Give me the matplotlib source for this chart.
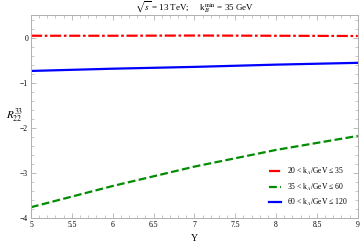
import matplotlib
matplotlib.use("Agg")
import matplotlib.pyplot as plt
from matplotlib.ticker import MultipleLocator

plt.rcParams['font.family'] = ['Liberation Serif', 'DejaVu Serif']
plt.rcParams['mathtext.fontset'] = 'stix'

# data
Y = [5.0, 6.0, 7.0, 8.0, 9.0]
r_20_35 = [0.04, 0.04, 0.045, 0.04, 0.035]
r_35_60 = [-3.76, -3.29, -2.86, -2.49, -2.18]
r_60_120 = [-0.74, -0.69, -0.65, -0.60, -0.56]
labels = [r"20 < k$_A$/GeV ≤ 35", r"35 < k$_A$/GeV ≤ 60", r"60 < k$_A$/GeV ≤ 120"]

fig = plt.figure(figsize=(3.6, 2.42), dpi=100)
ax = fig.add_axes([0.086, 0.099, 0.908, 0.839])

ax.plot(Y, r_20_35, color='#ff0000', lw=1.6, dashes=(5, 1.2, 1.2, 1.2), label=labels[0])
ax.plot(Y, r_35_60, color='#008c00', lw=1.6, dashes=(3.5, 1.5), label=labels[1])
ax.plot(Y, r_60_120, color='#0000ff', lw=1.6, label=labels[2])

ax.set_xlim(5, 9)
ax.set_ylim(-4, 0.5)
ax.xaxis.set_major_locator(MultipleLocator(0.5))
ax.xaxis.set_minor_locator(MultipleLocator(0.1))
ax.yaxis.set_major_locator(MultipleLocator(1))
ax.yaxis.set_minor_locator(MultipleLocator(0.2))
ax.xaxis.set_major_formatter(plt.FuncFormatter(lambda v, p: f"{v:g}"))
ax.yaxis.set_major_formatter(plt.FuncFormatter(lambda v, p: f"{v:g}".replace('-', '\u2212')))
ax.tick_params(which='both', direction='in', top=True, right=True, color='#b0b0b0',
               labelsize=5.5, pad=2)
ax.tick_params(which='major', length=3.5, width=0.6)
ax.tick_params(which='minor', length=2, width=0.5)
ax.tick_params(labeltop=False, labelright=False)
for s in ax.spines.values():
    s.set_color('#b0b0b0')
    s.set_linewidth(0.7)

ax.set_xlabel("Y", fontsize=7, labelpad=4)
ax.set_ylabel(r"$R^{33}_{22}$", fontsize=8, rotation=0, va='center', ha='center')
ax.yaxis.set_label_coords(-0.05, 0.505)
ax.set_title(r"$\sqrt{s}$ = 13 TeV;     k$_B^{\rm min}$ = 35 GeV", fontsize=6.5, pad=2)

leg = ax.legend(loc='lower right', frameon=False, fontsize=5.5, handlelength=1.6,
                labelspacing=0.55, borderaxespad=0.9, handletextpad=0.8)

fig.savefig("out.png", dpi=100)
